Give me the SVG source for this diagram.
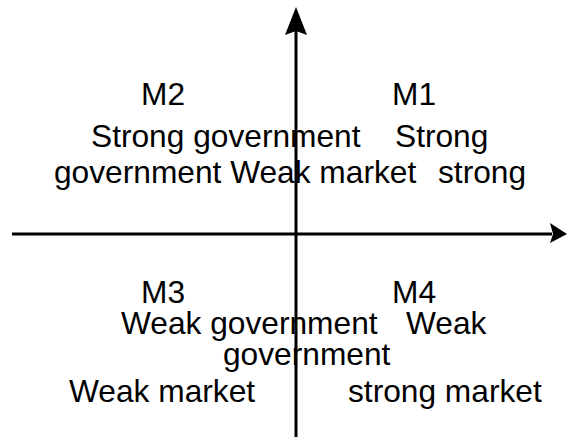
<svg xmlns="http://www.w3.org/2000/svg" width="567" height="442" viewBox="0 0 567 442">
<style>
text{font-family:"Liberation Sans",Arial,sans-serif;font-size:31.7px;fill:#000}
.ax{stroke:#000;stroke-width:3;fill:none}
</style>
<rect width="567" height="442" fill="#fff"/>
<g id="connectors">
<line class="ax" x1="296" y1="437" x2="296" y2="30"/>
<polygon points="296,7 307,35 296,31 285,35" fill="#000"/>
<line class="ax" x1="12" y1="234" x2="552" y2="234"/>
<polygon points="567,234 550,223 553,234 550,243" fill="#000"/>
</g>
<g id="M2">
<text x="141" y="105">M2</text>
<text x="91" y="147">Strong government</text>
<text x="54" y="183">government Weak market</text>
</g>
<g id="M1">
<text x="392" y="105">M1</text>
<text x="395" y="147">Strong</text>
<text x="438" y="183">strong</text>
</g>
<g id="M3">
<text x="141" y="303">M3</text>
<text x="121" y="334">Weak government</text>
<text x="223" y="365">government</text>
<text x="69" y="402">Weak market</text>
</g>
<g id="M4">
<text x="392" y="303">M4</text>
<text x="406" y="334">Weak</text>
<text x="348" y="402">strong market</text>
</g>
</svg>
